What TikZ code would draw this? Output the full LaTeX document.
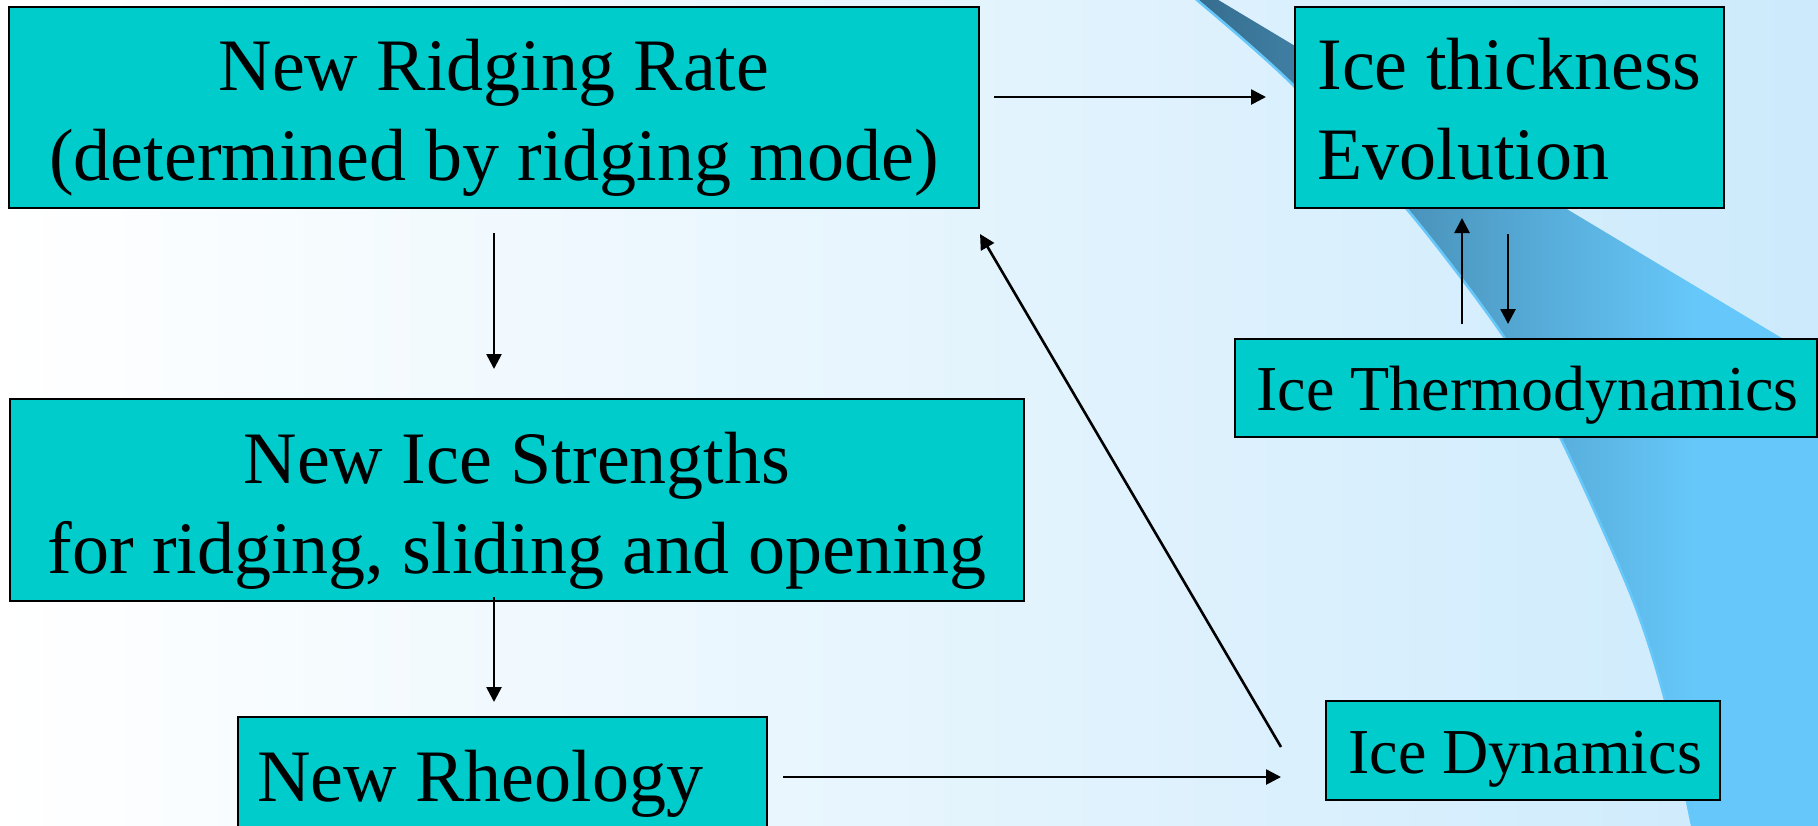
\documentclass[tikz,border=0pt]{standalone}
\usepackage{fontspec}
\setmainfont{Liberation Serif}
\usetikzlibrary{arrows.meta,calc}
\definecolor{boxfill}{HTML}{00CCCC}
\definecolor{bgright}{HTML}{CCEAFC}
\definecolor{swdark}{HTML}{336888}
\definecolor{swlight}{HTML}{66C8FA}
\pgfdeclarehorizontalshading{swooshshade}{100bp}{color(0bp)=(swdark); color(25bp)=(swdark); color(65bp)=(swlight); color(100bp)=(swlight)}
\begin{document}
\begin{tikzpicture}[x=0.5pt,y=-0.5pt,
 box/.style={draw=black, line width=1.2pt, fill=boxfill, inner sep=0pt, outer sep=0pt},
 bigtext/.style={font=\fontsize{37}{45}\selectfont, inner sep=0pt, anchor=base, align=center},
 lefttext/.style={font=\fontsize{37}{45}\selectfont, inner sep=0pt, anchor=base west, align=left},
 smalltext/.style={font=\fontsize{32}{40}\selectfont, inner sep=0pt, anchor=base west},
 arr/.style={line width=1.3pt, -{Triangle[length=7.5pt,width=7.5pt]}}]
\useasboundingbox (0,0) rectangle (1818,825);
\clip (0,0) rectangle (1818,825);
% background
\shade[left color=white, right color=bgright] (0,0) rectangle (1818,825);
% swoosh
\shade[shading=swooshshade] plot[smooth] coordinates {(1170,-20) (1197,0) (1293,85) (1406,208) (1504,337) (1561,439) (1631,595) (1665,700) (1692,825) (1700,860)}
  -- (1830,860) -- (1830,367) -- (1185,-20) -- cycle;
\draw[swlight, line width=1.3pt] plot[smooth] coordinates {(1170,-20) (1197,0) (1293,85) (1406,208) (1504,337) (1561,439) (1631,595) (1665,700) (1692,825) (1700,860)};
% boxes
\node[box, minimum width=485pt, minimum height=100.5pt] (ridge) at (494,107.5) {};
\node[box, minimum width=507pt, minimum height=101pt] (strength) at (517,500) {};
\node[box, minimum width=264.5pt, minimum height=71.5pt] (rheo) at (502.5,788.5) {};
\node[box, minimum width=214.5pt, minimum height=100.5pt] (thick) at (1509.5,107.5) {};
\node[box, minimum width=291pt, minimum height=49pt] (thermo) at (1526,388) {};
\node[box, minimum width=197pt, minimum height=49.5pt] (dyn) at (1523,750.5) {};
% texts (base anchor = baseline of the last line)
\node[bigtext] (ridgeT) at (494,180) {New Ridging Rate\\(determined by ridging mode)};
\node[bigtext] (strengthT) at (517,573) {New Ice Strengths\\for ridging, sliding and opening};
\node[lefttext] (rheoT) at (257,801) {New Rheology};
\node[lefttext] (thickT) at (1317,179) {Ice thickness\\Evolution};
\node[smalltext] (thermoT) at (1256,410) {Ice Thermodynamics};
\node[smalltext] (dynT) at (1348,773) {Ice Dynamics};
% connectors
\draw[arr] ($(ridge.east)+(15,-10.5)$) -- ($(thick.west)+(-29,-10.5)$);
\draw[arr] ($(ridge.south)+(0,25)$) -- ($(ridge.south |- strength.north)+(0,-30)$);
\draw[arr] ($(strength.south -| ridge.south)+(0,-4)$) -- ($(rheo.north -| ridge.south)+(0,-15)$);
\draw[arr] ($(rheo.north east)+(16,60)$) -- ($(dyn.north west)+(-45,76)$);
\draw[arr] ($(dyn.north west)+(-45,46)$) -- ($(ridge.south east)+(1,26)$);
\draw[arr] ($(thermo.north)+(-64,-15)$) -- ($(thick.south)+(-47.5,10)$);
\draw[arr] ($(thick.south)+(-1.5,26)$) -- ($(thermo.north)+(-18,-15)$);
\end{tikzpicture}
\end{document}
